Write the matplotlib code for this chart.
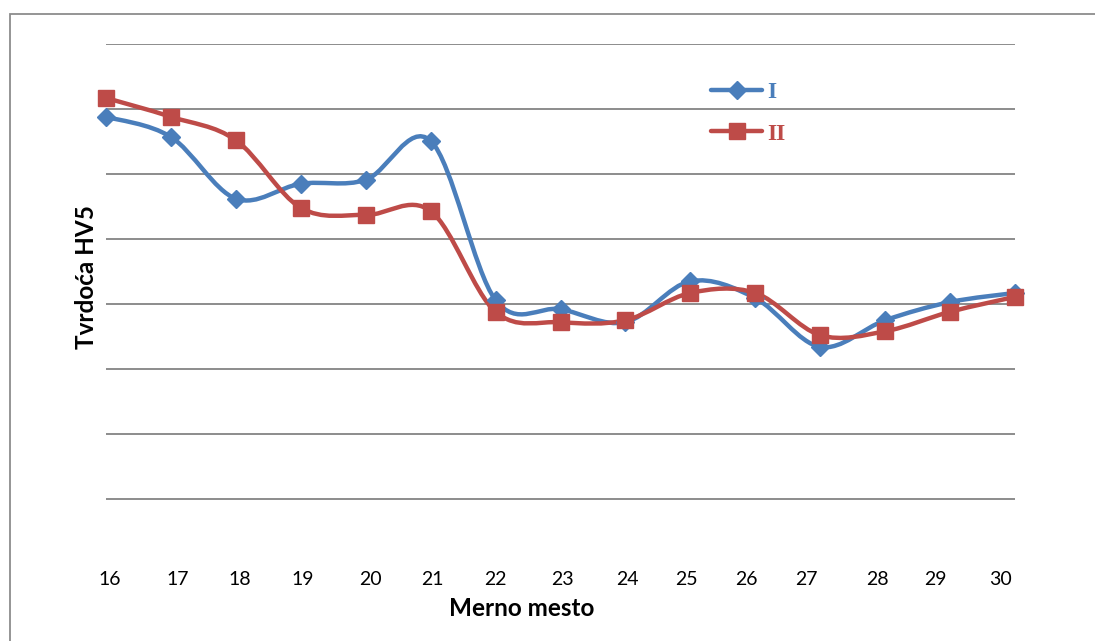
import numpy as np
import matplotlib
matplotlib.use("Agg")
import matplotlib.pyplot as plt
from matplotlib.path import Path
from matplotlib.patches import PathPatch, Rectangle
from matplotlib.lines import Line2D

# data (arbitrary units, no y scale shown)
mesto = [16, 17, 18, 19, 20, 21, 22, 23, 24, 25, 26, 27, 28, 29, 30]
serija_I = [6.88, 6.57, 5.62, 5.85, 5.91, 6.51, 4.06, 3.92, 3.72, 4.35, 4.09, 3.34, 3.75, 4.03, 4.17]
serija_II = [7.17, 6.88, 6.52, 5.48, 5.37, 5.43, 3.88, 3.72, 3.75, 4.17, 4.17, 3.52, 3.58, 3.88, 4.11]
tick_labels = [str(m) for m in mesto]
# tick labels in the original sit slightly off the points
tick_pos = [16.06, 17.11, 18.06, 19.03, 20.08, 21.03, 22.0, 23.03, 24.03,
            24.94, 25.86, 26.78, 27.88, 28.78, 29.78]

BLUE = "#4A7EBB"
RED = "#BE4B48"
GRID = "#8C8C8C"


def smooth_path(x, y):
    # excel-like smoothed line: catmull-rom segments as cubic beziers
    x = np.asarray(x, float)
    y = np.asarray(y, float)
    n = len(x)
    verts = [(x[0], y[0])]
    codes = [Path.MOVETO]
    for i in range(n - 1):
        p0 = (x[max(i - 1, 0)], y[max(i - 1, 0)])
        p1 = (x[i], y[i])
        p2 = (x[i + 1], y[i + 1])
        p3 = (x[min(i + 2, n - 1)], y[min(i + 2, n - 1)])
        c1 = (p1[0] + (p2[0] - p0[0]) / 6, p1[1] + (p2[1] - p0[1]) / 6)
        c2 = (p2[0] - (p3[0] - p1[0]) / 6, p2[1] - (p3[1] - p1[1]) / 6)
        verts += [c1, c2, p2]
        codes += [Path.CURVE4] * 3
    return Path(verts, codes)


fig = plt.figure(figsize=(10.95, 6.41), dpi=100)
W, H = 1095, 641
ax = fig.add_axes([106 / W, (H - 564) / H, (1015 - 106) / W, (564 - 44) / H])

# outer chart frame (left and top visible)
fig.patches.append(Rectangle((9.5 / W, -0.05), 1.2, (H - 14) / H + 0.05,
                             transform=fig.transFigure, fill=False,
                             edgecolor="#8C8C8C", lw=1.3))

ax.set_xlim(16, 30)
ax.set_ylim(0, 8)
for s in ax.spines.values():
    s.set_visible(False)
ax.set_yticks(range(1, 9))
ax.set_yticklabels([])
ax.tick_params(axis="y", length=0)
ax.grid(axis="y", color=GRID, lw=1.4)
ax.set_axisbelow(True)

for vals, col, mk, ms in [(serija_I, BLUE, "D", 9.5), (serija_II, RED, "s", 11)]:
    ax.add_patch(PathPatch(smooth_path(mesto, vals), fill=False, edgecolor=col,
                           lw=3.2, capstyle="round", joinstyle="round", zorder=3))
    ax.plot(mesto, vals, ls="none", marker=mk, ms=ms, color=col,
            markeredgecolor=col, zorder=4, clip_on=False)

ax.set_xticks(tick_pos)
ax.set_xticklabels(tick_labels, fontfamily="Lato", fontsize=14)
ax.tick_params(axis="x", length=0, pad=5)

ax.set_xlabel("Merno mesto", fontfamily="Lato", fontweight="bold", fontsize=17.5)
ax.xaxis.set_label_coords((522 - 106) / (1015 - 106), -(609 - 564) / (564 - 44))
ax.set_ylabel("Tvrdoća HV5", fontfamily="Lato", fontweight="bold", fontsize=17.5)
ax.yaxis.set_label_coords(-(106 - 87) / (1015 - 106), (564 - 277) / (564 - 44))
ax.yaxis.label.set_va("center")
ax.xaxis.label.set_va("center")

handles = [Line2D([], [], color=BLUE, lw=3.2, marker="D", ms=9.5, solid_capstyle="round"),
           Line2D([], [], color=RED, lw=3.2, marker="s", ms=11, solid_capstyle="round")]
leg = ax.legend(handles, ["I", "II"], loc="center left",
                bbox_to_anchor=((690 - 106) / (1015 - 106), (564 - 113) / (564 - 44)),
                frameon=False, handlelength=2.15, handletextpad=0.2, labelspacing=0.85,
                prop={"family": "Liberation Serif", "weight": "bold", "size": 17})
for t, c in zip(leg.get_texts(), [BLUE, RED]):
    t.set_color(c)

fig.savefig("out.png", dpi=100)
